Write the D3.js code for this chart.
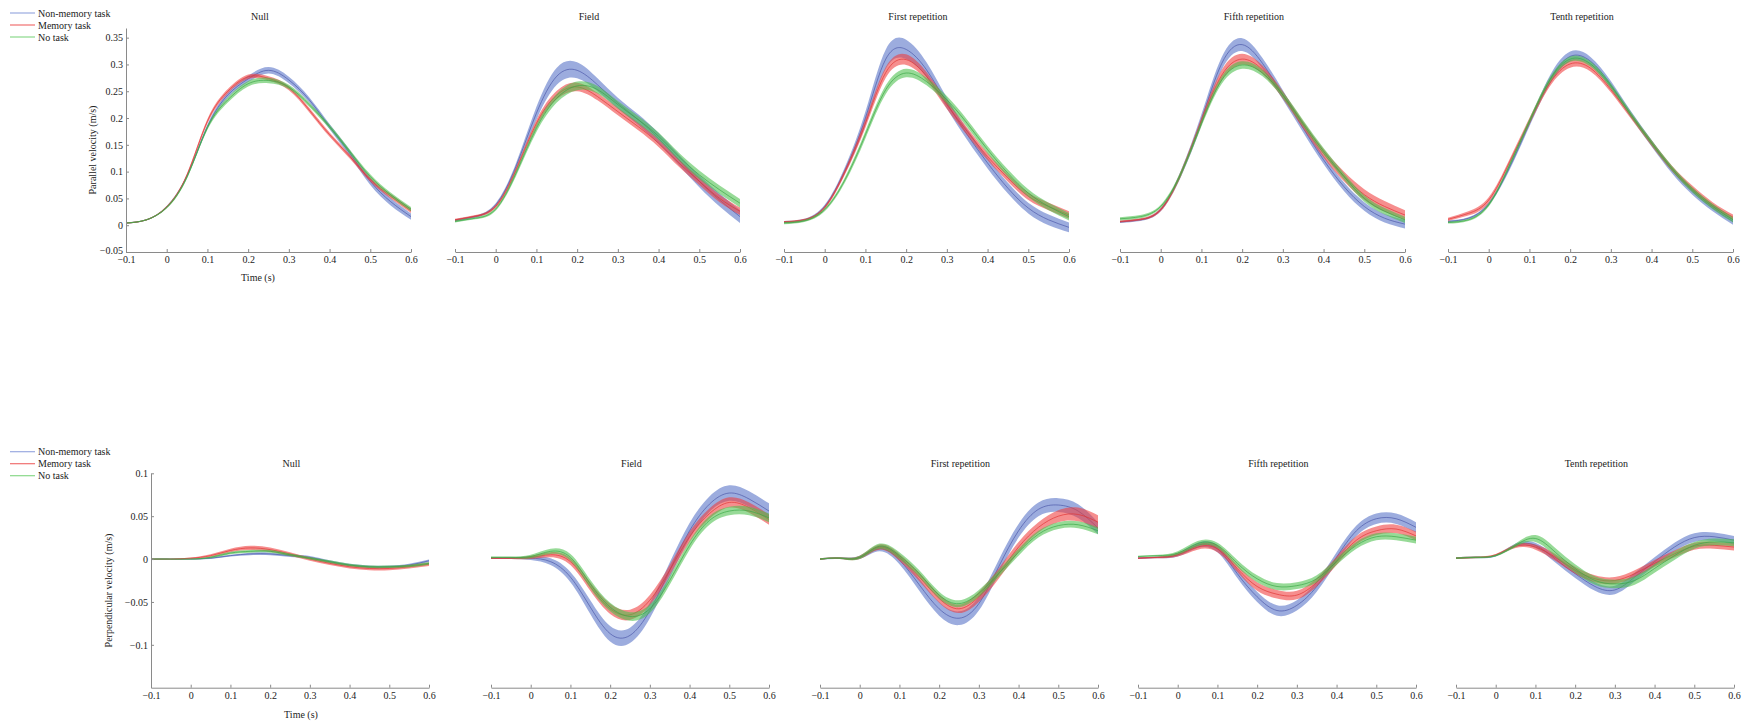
<!DOCTYPE html>
<html><head><meta charset="utf-8">
<script src="https://cdn.jsdelivr.net/npm/d3@7/dist/d3.min.js"></script>
<style>
body{margin:0;background:#fff;}
text{font-family:"Liberation Serif","Times New Roman",serif;fill:#222;}
</style></head>
<body><svg id="c" width="1753" height="723"></svg>
<script>
// ---------- DATA ----------
const time = [-0.1,-0.05,0,0.05,0.1,0.15,0.2,0.25,0.3,0.35,0.4,0.45,0.5,0.55,0.6];
const panelTitles = ["Null","Field","First repetition","Fifth repetition","Tenth repetition"];
const seriesNames = ["Non-memory task","Memory task","No task"];
const xTicks = [-0.1,0,0.1,0.2,0.3,0.4,0.5,0.6];
const yTicksPar = [-0.05,0,0.05,0.1,0.15,0.2,0.25,0.3,0.35];
const yTicksPerp = [-0.1,-0.05,0,0.05,0.1];

// Parallel velocity (top row): means [non-memory, memory, no task]
const parNullMean = [
 [0.004,0.01,0.034,0.092,0.184,0.243,0.273,0.289,0.271,0.234,0.184,0.134,0.082,0.044,0.016],
 [0.004,0.01,0.034,0.094,0.194,0.25,0.277,0.274,0.256,0.215,0.169,0.128,0.085,0.054,0.027],
 [0.004,0.01,0.033,0.09,0.182,0.234,0.264,0.27,0.258,0.225,0.184,0.137,0.091,0.057,0.03]];
const parFieldMean = [
 [0.009,0.016,0.038,0.11,0.209,0.278,0.289,0.262,0.228,0.197,0.162,0.122,0.082,0.047,0.016],
 [0.01,0.017,0.035,0.103,0.19,0.243,0.258,0.24,0.212,0.184,0.153,0.116,0.082,0.05,0.026],
 [0.007,0.013,0.03,0.097,0.181,0.237,0.26,0.253,0.225,0.197,0.166,0.128,0.094,0.066,0.041]];
const parFirstMean = [
 [0.006,0.01,0.035,0.103,0.2,0.31,0.328,0.29,0.228,0.169,0.116,0.069,0.032,0.01,-0.004],
 [0.006,0.01,0.033,0.1,0.19,0.285,0.309,0.278,0.225,0.175,0.128,0.088,0.054,0.035,0.019],
 [0.004,0.008,0.029,0.085,0.169,0.253,0.284,0.268,0.234,0.19,0.141,0.097,0.06,0.035,0.016]];
const parFifthMean = [
 [0.006,0.01,0.029,0.097,0.197,0.302,0.337,0.302,0.243,0.181,0.122,0.072,0.035,0.013,0.002],
 [0.007,0.011,0.029,0.097,0.194,0.28,0.31,0.29,0.243,0.187,0.134,0.091,0.057,0.035,0.019],
 [0.012,0.016,0.035,0.097,0.19,0.271,0.299,0.284,0.243,0.19,0.138,0.091,0.05,0.026,0.01]];
const parTenthMean = [
 [0.007,0.013,0.04,0.106,0.19,0.271,0.315,0.306,0.262,0.206,0.153,0.103,0.063,0.032,0.007],
 [0.011,0.022,0.047,0.116,0.194,0.265,0.301,0.293,0.253,0.203,0.153,0.106,0.069,0.038,0.015],
 [0.005,0.01,0.038,0.11,0.194,0.271,0.31,0.301,0.26,0.206,0.154,0.106,0.066,0.035,0.01]];

// Parallel velocity standard errors
const parNullSE = [
 [0.001,0.001,0.002,0.003,0.004,0.005,0.006,0.006,0.006,0.005,0.005,0.006,0.007,0.007,0.006],
 [0.001,0.001,0.002,0.003,0.004,0.004,0.004,0.004,0.004,0.004,0.004,0.004,0.004,0.004,0.004],
 [0.001,0.001,0.002,0.003,0.004,0.005,0.005,0.005,0.004,0.004,0.004,0.004,0.004,0.004,0.004]];
const parFieldSE = [
 [0.002,0.002,0.003,0.006,0.012,0.016,0.015,0.012,0.01,0.01,0.01,0.01,0.011,0.012,0.012],
 [0.002,0.002,0.003,0.005,0.007,0.008,0.008,0.007,0.007,0.007,0.007,0.007,0.007,0.007,0.007],
 [0.002,0.002,0.003,0.005,0.007,0.008,0.008,0.007,0.007,0.007,0.007,0.007,0.008,0.008,0.008]];
const parFirstSE = [
 [0.002,0.002,0.003,0.006,0.012,0.018,0.018,0.014,0.01,0.01,0.01,0.01,0.01,0.01,0.009],
 [0.002,0.002,0.003,0.005,0.008,0.01,0.01,0.008,0.008,0.007,0.007,0.007,0.007,0.007,0.007],
 [0.002,0.002,0.003,0.005,0.007,0.008,0.008,0.007,0.007,0.007,0.007,0.007,0.007,0.007,0.007]];
const parFifthSE = [
 [0.002,0.002,0.003,0.006,0.01,0.012,0.012,0.01,0.009,0.008,0.008,0.008,0.008,0.008,0.008],
 [0.002,0.002,0.003,0.005,0.007,0.01,0.01,0.008,0.007,0.007,0.008,0.009,0.01,0.01,0.009],
 [0.003,0.003,0.003,0.005,0.006,0.007,0.007,0.006,0.006,0.006,0.006,0.006,0.006,0.006,0.006]];
const parTenthSE = [
 [0.002,0.002,0.003,0.005,0.006,0.008,0.009,0.008,0.007,0.006,0.006,0.006,0.006,0.006,0.006],
 [0.003,0.004,0.005,0.005,0.006,0.006,0.007,0.006,0.005,0.005,0.005,0.005,0.005,0.005,0.005],
 [0.002,0.002,0.003,0.004,0.005,0.005,0.005,0.005,0.005,0.005,0.005,0.005,0.005,0.005,0.005]];

// Perpendicular velocity (bottom row): means [non-memory, memory, no task]
const perpNullMean = [
 [0,0,0,0.001,0.004,0.006,0.006,0.004,0.002,-0.003,-0.007,-0.009,-0.009,-0.007,-0.002],
 [0,0,0.001,0.004,0.01,0.013,0.011,0.006,0,-0.005,-0.009,-0.011,-0.011,-0.009,-0.006],
 [0,0,0,0.002,0.007,0.009,0.009,0.005,0.001,-0.003,-0.007,-0.009,-0.009,-0.008,-0.005]];
const perpFieldMean = [
 [0.001,0.001,0.001,-0.003,-0.021,-0.056,-0.087,-0.089,-0.06,-0.013,0.033,0.064,0.077,0.07,0.056],
 [0.001,0.001,0.002,0.005,-0.003,-0.032,-0.058,-0.065,-0.048,-0.013,0.026,0.053,0.066,0.06,0.046],
 [0.002,0.002,0.003,0.009,0.002,-0.029,-0.056,-0.067,-0.058,-0.025,0.016,0.045,0.056,0.056,0.048]];
const perpFirstMean = [
 [0,0.001,0.002,0.012,-0.001,-0.03,-0.058,-0.069,-0.052,-0.009,0.033,0.058,0.063,0.056,0.036],
 [0,0.001,0.002,0.014,0.002,-0.021,-0.046,-0.058,-0.044,-0.017,0.014,0.037,0.05,0.052,0.043],
 [0,0.001,0.002,0.015,0.004,-0.017,-0.042,-0.052,-0.04,-0.017,0.008,0.029,0.039,0.04,0.033]];
const perpFifthMean = [
 [0.001,0.002,0.005,0.016,0.012,-0.017,-0.044,-0.06,-0.054,-0.032,0.002,0.033,0.047,0.047,0.037],
 [0.001,0.002,0.005,0.014,0.012,-0.011,-0.032,-0.041,-0.042,-0.027,-0.002,0.022,0.033,0.035,0.027],
 [0.003,0.004,0.007,0.018,0.016,-0.005,-0.023,-0.032,-0.031,-0.023,-0.003,0.016,0.026,0.026,0.022]];
const perpTenthMean = [
 [0.001,0.002,0.004,0.016,0.016,0,-0.017,-0.032,-0.036,-0.021,-0.003,0.014,0.025,0.026,0.022],
 [0.001,0.002,0.005,0.015,0.014,0.002,-0.013,-0.023,-0.025,-0.017,-0.005,0.006,0.015,0.016,0.014],
 [0.001,0.002,0.004,0.016,0.024,0.008,-0.011,-0.025,-0.029,-0.025,-0.011,0.004,0.016,0.02,0.019]];

// Perpendicular velocity standard errors
const perpNullSE = [
 [0.0005,0.0005,0.0005,0.001,0.001,0.0015,0.0015,0.0015,0.0015,0.0015,0.0015,0.0015,0.0015,0.0015,0.0015],
 [0.0005,0.0005,0.0008,0.0015,0.002,0.0025,0.0025,0.002,0.002,0.002,0.002,0.002,0.002,0.002,0.002],
 [0.0005,0.0005,0.0005,0.001,0.0015,0.0015,0.0015,0.0015,0.0015,0.0015,0.0015,0.0015,0.0015,0.0015,0.0015]];
const perpFieldSE = [
 [0.001,0.001,0.002,0.004,0.006,0.008,0.009,0.009,0.009,0.009,0.009,0.009,0.009,0.009,0.009],
 [0.001,0.001,0.002,0.003,0.004,0.005,0.006,0.006,0.006,0.006,0.006,0.006,0.006,0.006,0.006],
 [0.001,0.001,0.002,0.003,0.004,0.005,0.005,0.005,0.005,0.005,0.005,0.005,0.005,0.005,0.005]];
const perpFirstSE = [
 [0.001,0.001,0.002,0.003,0.005,0.007,0.008,0.008,0.008,0.008,0.008,0.008,0.008,0.008,0.007],
 [0.001,0.001,0.002,0.003,0.004,0.005,0.005,0.005,0.006,0.006,0.006,0.006,0.007,0.008,0.008],
 [0.001,0.001,0.002,0.003,0.004,0.004,0.004,0.004,0.004,0.004,0.004,0.004,0.004,0.004,0.004]];
const perpFifthSE = [
 [0.001,0.001,0.002,0.003,0.004,0.005,0.006,0.006,0.006,0.006,0.006,0.006,0.006,0.006,0.006],
 [0.001,0.001,0.002,0.003,0.004,0.004,0.005,0.005,0.005,0.005,0.005,0.005,0.005,0.005,0.005],
 [0.001,0.001,0.002,0.003,0.003,0.004,0.004,0.004,0.004,0.004,0.004,0.004,0.004,0.004,0.004]];
const perpTenthSE = [
 [0.001,0.001,0.001,0.002,0.003,0.004,0.005,0.005,0.005,0.005,0.005,0.005,0.005,0.005,0.005],
 [0.001,0.001,0.001,0.002,0.003,0.004,0.004,0.004,0.004,0.004,0.004,0.004,0.004,0.004,0.004],
 [0.001,0.001,0.001,0.002,0.004,0.005,0.005,0.005,0.005,0.005,0.005,0.005,0.004,0.004,0.004]];

// ---------- STYLE / LAYOUT ----------
const bandColors = ["#5470c6","#f03c3c","#4cc04c"];
const lineColors = ["#4a56a8","#e03434","#3aa846"];
const legendColors = ["#9aaae0","#f07070","#8ad88a"];

const rows = [
  {means:[parNullMean,parFieldMean,parFirstMean,parFifthMean,parTenthMean],
   ses:[parNullSE,parFieldSE,parFirstSE,parFifthSE,parTenthSE],
   lefts:[126,455,784,1120,1448], width:285, yTop:28, yBot:252,
   domain:[-0.05,0.368], yTicks:yTicksPar, ylabel:"Parallel velocity (m/s)",
   ylabelX:96, titleY:20, titleFrac:0.47, legendY:13, timeX:258, timeY:281},
  {means:[perpNullMean,perpFieldMean,perpFirstMean,perpFifthMean,perpTenthMean],
   ses:[perpNullSE,perpFieldSE,perpFirstSE,perpFifthSE,perpTenthSE],
   lefts:[151,491,820,1138,1456], width:278, yTop:473.3, yBot:687.7,
   domain:[-0.15,0.1], yTicks:yTicksPerp, ylabel:"Perpendicular velocity (m/s)",
   ylabelX:112, titleY:467, titleFrac:0.505, legendY:451.7, timeX:301, timeY:718}
];

const svg = d3.select("#c");
const fmt = d => Math.abs(d) < 1e-9 ? "0" : (d < 0 ? "\u2212" : "") + String(+Math.abs(d).toFixed(2));

rows.forEach(row => {
  const y = d3.scaleLinear().domain(row.domain).range([row.yBot, row.yTop]);
  row.lefts.forEach((left, p) => {
    const x = d3.scaleLinear().domain([-0.1, 0.6]).range([left, left + row.width]);
    const g = svg.append("g");
    // bands + mean lines
    [0,1,2].forEach(s => {
      const m = row.means[p][s], se = row.ses[p][s];
      const pts = time.map((t,i) => ({t, m:m[i], se:se[i]}));
      const area = d3.area().curve(d3.curveNatural)
        .x(d => x(d.t)).y0(d => y(d.m - d.se)).y1(d => y(d.m + d.se));
      const line = d3.line().curve(d3.curveNatural)
        .x(d => x(d.t)).y(d => y(d.m));
      g.append("path").attr("d", area(pts)).attr("fill", bandColors[s]).attr("fill-opacity", 0.58);
      g.append("path").attr("d", line(pts)).attr("fill","none").attr("stroke", lineColors[s])
        .attr("stroke-width", 0.8).attr("stroke-opacity", 0.85);
    });
    // x axis
    const xa = g.append("g").attr("transform", `translate(0,${row.yBot})`)
      .call(d3.axisBottom(x).tickValues(xTicks).tickFormat(fmt).tickSizeInner(-3).tickSizeOuter(0).tickPadding(4));
    xa.select(".domain").attr("stroke","#8a8a8a");
    xa.selectAll(".tick line").attr("stroke","#8a8a8a");
    xa.selectAll("text").style("font-size","10px").attr("fill","#222");
    // title
    g.append("text").attr("x", left + row.width*row.titleFrac).attr("y", row.titleY)
      .attr("text-anchor","middle").style("font-size","10px").text(panelTitles[p]);
    if (p === 0) {
      const ya = g.append("g").attr("transform", `translate(${left},0)`)
        .call(d3.axisLeft(y).tickValues(row.yTicks).tickFormat(fmt).tickSizeInner(-3).tickSizeOuter(0).tickPadding(3));
      ya.select(".domain").attr("stroke","#8a8a8a");
      ya.selectAll(".tick line").attr("stroke","#8a8a8a");
      ya.selectAll("text").style("font-size","10px").attr("fill","#222");
      // lowest label sits just above the x-axis labels
      ya.selectAll(".tick text").filter(d => d === row.domain[0]).attr("dy","0.1em");
      g.append("text").attr("transform", `translate(${row.ylabelX},${(row.yTop+row.yBot)/2+10}) rotate(-90)`)
        .attr("text-anchor","middle").style("font-size","10px").text(row.ylabel);
      g.append("text").attr("x", row.timeX).attr("y", row.timeY)
        .attr("text-anchor","middle").style("font-size","10px").text("Time (s)");
    }
  });
  // legend
  const lg = svg.append("g");
  seriesNames.forEach((n, i) => {
    const ly = row.legendY + i*12;
    lg.append("line").attr("x1",10).attr("x2",35).attr("y1",ly).attr("y2",ly)
      .attr("stroke", legendColors[i]).attr("stroke-width",1.2);
    lg.append("text").attr("x",38).attr("y",ly+3.5).style("font-size","10px").text(n);
  });
});
</script></body></html>
